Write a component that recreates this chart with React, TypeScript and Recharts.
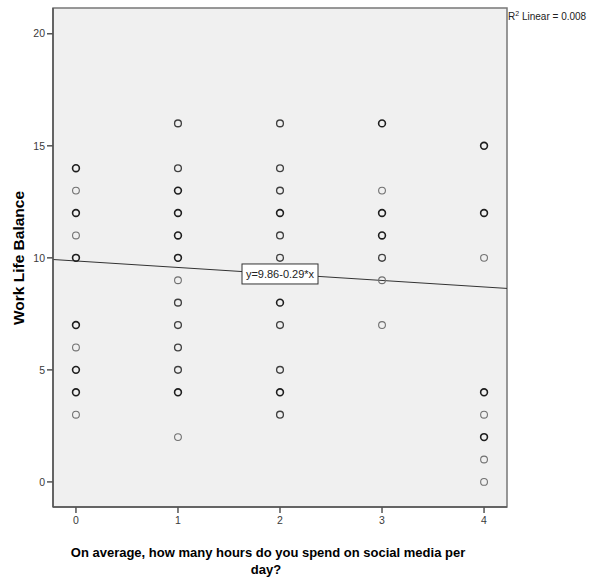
import React from "react";
import {
  ScatterChart,
  Scatter,
  XAxis,
  YAxis,
  ReferenceArea,
  ReferenceLine,
  ReferenceDot,
  Label,
} from "recharts";

// ---- data ----
const hourCategories = [0, 1, 2, 3, 4];
const wlbAt0 = [14, 13, 12, 11, 10, 7, 6, 5, 4, 3];
const cntAt0 = [3, 1, 3, 1, 3, 3, 1, 3, 3, 1];
const wlbAt1 = [16, 14, 13, 12, 11, 10, 9, 8, 7, 6, 5, 4, 2];
const cntAt1 = [2, 2, 3, 3, 3, 3, 1, 2, 2, 2, 2, 3, 1];
const wlbAt2 = [16, 14, 13, 12, 11, 10, 8, 7, 5, 4, 3];
const cntAt2 = [2, 2, 2, 3, 2, 2, 3, 2, 2, 3, 2];
const wlbAt3 = [16, 13, 12, 11, 10, 9, 7];
const cntAt3 = [3, 1, 3, 3, 2, 1, 1];
const wlbAt4 = [15, 12, 10, 4, 3, 2, 1, 0];
const cntAt4 = [3, 3, 1, 3, 1, 3, 1, 1];

const yTicks = [0, 5, 10, 15, 20];
const xTicks = [0, 1, 2, 3, 4];

const intercept = 9.86;
const slope = -0.29;
const rSquared = "0.008";
const fitLabel = "y=9.86-0.29*x";

const X_DOMAIN: [number, number] = [-0.225, 4.225];
const Y_DOMAIN: [number, number] = [-1.12, 21.15];

const columns = [wlbAt0, wlbAt1, wlbAt2, wlbAt3, wlbAt4];
const counts = [cntAt0, cntAt1, cntAt2, cntAt3, cntAt4];

const points = hourCategories.flatMap((h, i) =>
  columns[i].map((v, j) => ({ x: h, y: v, n: counts[i][j] }))
);

const strokeFor = (n: number) => (n >= 3 ? "#1e1e1e" : n === 2 ? "#404040" : "#707070");
const widthFor = (n: number) => (n >= 3 ? 1.6 : n === 2 ? 1.35 : 1.1);

const Ring = (props: any) => {
  const { cx, cy, payload } = props;
  if (cx == null || cy == null) return null;
  const n = payload?.n ?? 1;
  return (
    <circle cx={cx} cy={cy} r={3.4} fill="none" stroke={strokeFor(n)} strokeWidth={widthFor(n)} />
  );
};

const FitBox = (props: any) => {
  const { cx, cy } = props;
  if (cx == null || cy == null) return null;
  const w = 76;
  const h = 20;
  return (
    <g>
      <rect x={cx - w / 2} y={cy - h / 2} width={w} height={h} fill="#ffffff" stroke="#333" strokeWidth={1} />
      <text
        x={cx}
        y={cy + 4}
        textAnchor="middle"
        fontFamily="Liberation Sans, Arial, sans-serif"
        fontSize={11}
        fill="#222"
      >
        {fitLabel}
      </text>
    </g>
  );
};

const tickStyle = { fontFamily: "Liberation Sans, Arial, sans-serif", fontSize: 10.5, fill: "#3a3a3a" };

export default function App() {
  const yAt = (x: number) => intercept + slope * x;
  return (
    <div style={{ position: "absolute", left: 0, top: 0, background: "#fff" }}>
      <ScatterChart
        width={589}
        height={581}
        margin={{ top: 8, right: 82, bottom: 44, left: 0 }}
      >
        <ReferenceArea
          x1={X_DOMAIN[0]}
          x2={X_DOMAIN[1]}
          y1={Y_DOMAIN[0]}
          y2={Y_DOMAIN[1]}
          fill="#f0f0f0"
          fillOpacity={1}
          stroke="#777"
          strokeWidth={1.5}
          ifOverflow="visible"
        />
        <XAxis
          type="number"
          dataKey="x"
          domain={X_DOMAIN}
          ticks={xTicks}
          allowDataOverflow
          height={30}
          tickSize={6}
          tickMargin={4}
          axisLine={{ stroke: "#555", strokeWidth: 1.5 }}
          tickLine={{ stroke: "#555", strokeWidth: 1.5 }}
          tick={tickStyle}
        >
          <Label
            content={() => (
              <g>
                <text
                  x={268}
                  y={557}
                  textAnchor="middle"
                  fontFamily="Liberation Sans, Arial, sans-serif"
                  fontWeight="bold"
                  fontSize={13}
                  fill="#000"
                >
                  On average, how many hours do you spend on social media per
                </text>
                <text
                  x={266}
                  y={574}
                  textAnchor="middle"
                  fontFamily="Liberation Sans, Arial, sans-serif"
                  fontWeight="bold"
                  fontSize={13}
                  fill="#000"
                >
                  day?
                </text>
              </g>
            )}
          />
        </XAxis>
        <YAxis
          type="number"
          dataKey="y"
          domain={Y_DOMAIN}
          ticks={yTicks}
          allowDataOverflow
          width={53}
          tickSize={6}
          tickMargin={2}
          axisLine={{ stroke: "#555", strokeWidth: 1.5 }}
          tickLine={{ stroke: "#555", strokeWidth: 1.5 }}
          tick={tickStyle}
        >
          <Label
            content={() => (
              <text
                x={24}
                y={258}
                transform="rotate(-90 24 258)"
                textAnchor="middle"
                fontFamily="Liberation Sans, Arial, sans-serif"
                fontWeight="bold"
                fontSize={15.5}
                fill="#000"
              >
                Work Life Balance
              </text>
            )}
          />
        </YAxis>
        <ReferenceLine
          segment={[
            { x: X_DOMAIN[0], y: yAt(X_DOMAIN[0]) },
            { x: X_DOMAIN[1], y: yAt(X_DOMAIN[1]) },
          ]}
          stroke="#333"
          strokeWidth={1}
          ifOverflow="visible"
        />
        <Scatter data={points} shape={<Ring />} isAnimationActive={false} />
        <ReferenceDot x={2} y={yAt(2)} shape={<FitBox />} ifOverflow="visible" />
        <ReferenceDot
          x={X_DOMAIN[1]}
          y={Y_DOMAIN[1]}
          ifOverflow="visible"
          shape={(p: any) => (
            <text
              x={p.cx + 1}
              y={p.cy + 12}
              fontFamily="Liberation Sans, Arial, sans-serif"
              fontSize={10}
              fill="#222"
            >
              R<tspan dy={-4} fontSize={7}>2</tspan>
              <tspan dy={4}> Linear = {rSquared}</tspan>
            </text>
          )}
        />
      </ScatterChart>
    </div>
  );
}
